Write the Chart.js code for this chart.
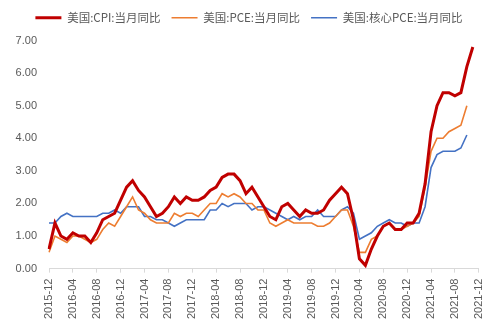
<!DOCTYPE html>
<html>
<head>
<meta charset="utf-8">
<script src="https://cdn.jsdelivr.net/npm/chart.js@4.4.1/dist/chart.umd.min.js"></script>
<style>
html,body{margin:0;padding:0;background:#fff;}
#wrap{width:498px;height:325px;position:relative;}
</style>
</head>
<body>
<div id="wrap"><canvas id="c" width="498" height="325"></canvas></div>
<script>
// Categories: 2015-12 .. 2021-12 (monthly)
const months = [];
for (let y = 2015, m = 12; y < 2022; ) {
  months.push(y + '-' + String(m).padStart(2, '0'));
  if (y === 2021 && m === 12) break;
  m++; if (m > 12) { m = 1; y++; }
}
const seriesNames = ['美国:CPI:当月同比', '美国:PCE:当月同比', '美国:核心PCE:当月同比'];
const cpi = [0.6,
  1.4,1.0,0.9,1.1,1.0,1.0,0.8,1.1,1.5,1.6,1.7,2.1,
  2.5,2.7,2.4,2.2,1.9,1.6,1.7,1.9,2.2,2.0,2.2,2.1,
  2.1,2.2,2.4,2.5,2.8,2.9,2.9,2.7,2.3,2.5,2.2,1.9,
  1.6,1.5,1.9,2.0,1.8,1.6,1.8,1.7,1.7,1.8,2.1,2.3,
  2.5,2.3,1.5,0.3,0.1,0.6,1.0,1.3,1.4,1.2,1.2,1.4,
  1.4,1.7,2.6,4.2,5.0,5.4,5.4,5.3,5.4,6.2,6.8,null];
const pce = [0.5,
  1.0,0.9,0.8,1.0,1.0,0.9,0.8,0.9,1.2,1.4,1.3,1.6,
  1.9,2.2,1.8,1.7,1.5,1.4,1.4,1.4,1.7,1.6,1.7,1.7,
  1.6,1.8,2.0,2.0,2.3,2.2,2.3,2.2,2.0,2.0,1.8,1.8,
  1.4,1.3,1.4,1.5,1.4,1.4,1.4,1.4,1.3,1.3,1.4,1.6,
  1.8,1.8,1.3,0.5,0.5,0.9,1.0,1.3,1.4,1.2,1.2,1.3,
  1.4,1.6,2.5,3.6,4.0,4.0,4.2,4.3,4.4,5.0,null,null];
const corePce = [1.4,
  1.4,1.6,1.7,1.6,1.6,1.6,1.6,1.6,1.7,1.7,1.8,1.7,
  1.9,1.9,1.9,1.6,1.6,1.5,1.5,1.4,1.3,1.4,1.5,1.5,
  1.5,1.5,1.8,1.8,2.0,1.9,2.0,2.0,2.0,1.8,1.9,1.9,
  1.8,1.7,1.6,1.5,1.6,1.5,1.6,1.6,1.8,1.6,1.6,1.6,
  1.8,1.9,1.7,0.9,1.0,1.1,1.3,1.4,1.5,1.4,1.4,1.3,
  1.4,1.4,1.9,3.1,3.5,3.6,3.6,3.6,3.7,4.1,null,null];
const yTicks = [0,1,2,3,4,5,6,7];

const txt = '#595959';
const legendTweak = {
  id: 'legendTweak',
  beforeLayout(chart) {
    const l = chart.legend;
    if (l && !l._patched) {
      const orig = l.fit;
      l.fit = function() { orig.call(this); this.height += 7; };
      l._patched = true;
    }
  },
  afterLayout(chart) {
    const l = chart.legend;
    if (l) { l.left += 8; l.right += 8; }
  }
};
new Chart(document.getElementById('c'), {
  type: 'line',
  data: {
    labels: months,
    datasets: [
      {label: seriesNames[0], data: cpi, borderColor: '#C00000', backgroundColor: '#C00000', borderWidth: 3, pointRadius: 0, tension: 0},
      {label: seriesNames[1], data: pce, borderColor: '#ED7D31', backgroundColor: '#ED7D31', borderWidth: 1.6, pointRadius: 0, tension: 0},
      {label: seriesNames[2], data: corePce, borderColor: '#4472C4', backgroundColor: '#4472C4', borderWidth: 1.6, pointRadius: 0, tension: 0}
    ]
  },
  plugins: [legendTweak],
  options: {
    responsive: false,
    animation: false,
    layout: {padding: {left: 0, right: 16, top: 1, bottom: 0}},
    plugins: {
      tooltip: {enabled: false},
      legend: {
        position: 'top',
        labels: {
          usePointStyle: true, pointStyle: 'line', pointStyleWidth: 26,
          color: txt, padding: 11,
          font: {family: '"Noto Sans CJK SC", "Liberation Sans", sans-serif', size: 11.5}
        }
      }
    },
    scales: {
      x: {
        type: 'category',
        offset: false,
        grid: {display: true, drawOnChartArea: false, drawTicks: true, tickLength: 4,
               color: (ctx) => (ctx.index % 4 === 0 ? '#d9d9d9' : 'rgba(0,0,0,0)')},
        border: {display: true, color: '#d9d9d9'},
        ticks: {
          autoSkip: false, maxRotation: 90, minRotation: 90, padding: 6,
          color: txt, font: {family: '"Liberation Sans", Arial, sans-serif', size: 11},
          callback: function(v, i) { return i % 4 === 0 ? months[i] : ''; }
        }
      },
      y: {
        min: 0, max: 7,
        afterFit(s) { s.width = 49; },
        afterBuildTicks(s) { s.ticks = yTicks.map(v => ({value: v})); },
        grid: {display: false, drawTicks: false},
        border: {display: false},
        ticks: {
          padding: 12, color: txt,
          font: {family: '"Liberation Sans", Arial, sans-serif', size: 11},
          callback: (v) => Number(v).toFixed(2)
        }
      }
    }
  }
});
</script>
</body>
</html>
